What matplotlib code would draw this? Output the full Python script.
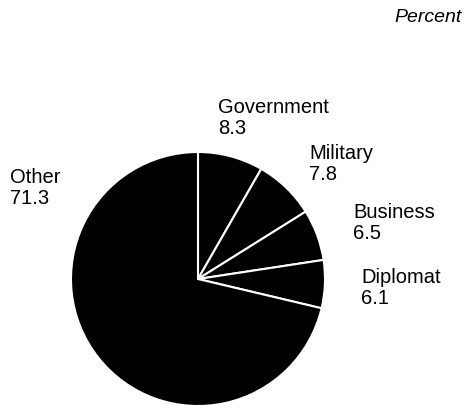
import matplotlib
matplotlib.use("Agg")
import matplotlib.pyplot as plt

# Share of respondents by group (percent)
categories = ["Government", "Military", "Business", "Diplomat", "Other"]
values = [8.3, 7.8, 6.5, 6.1, 71.3]
value_labels = ["8.3", "7.8", "6.5", "6.1", "71.3"]

# label anchor (left x, baseline y of the name) in pixel coords from the top
label_pos = [(218, 113), (309, 159), (353, 218), (361, 283), (10, 183)]

W, H = 466, 409
plt.rcParams['font.family'] = ['Liberation Sans', 'DejaVu Sans']

fig = plt.figure(figsize=(W / 100, H / 100), dpi=100)
ax = fig.add_axes([0, 0, 1, 1])
ax.set_xlim(0, W)
ax.set_ylim(0, H)
ax.set_aspect('equal')
ax.axis('off')

ax.pie(values, startangle=90, counterclock=False, center=(198, H - 279), radius=127,
       colors=['black'] * len(values),
       wedgeprops=dict(edgecolor='white', linewidth=1.5))
ax.set_xlim(0, W)
ax.set_ylim(0, H)

fs = 14.5
for name, val, (x, y) in zip(categories, value_labels, label_pos):
    ax.text(x, H - y, name, fontsize=fs, ha='left', va='baseline', color='black')
    ax.text(x, H - y - 21, val, fontsize=fs, ha='left', va='baseline', color='black')

ax.text(462, H - 22, "Percent", fontsize=14, style='italic', ha='right', va='baseline')

fig.savefig("out.png", dpi=100)
